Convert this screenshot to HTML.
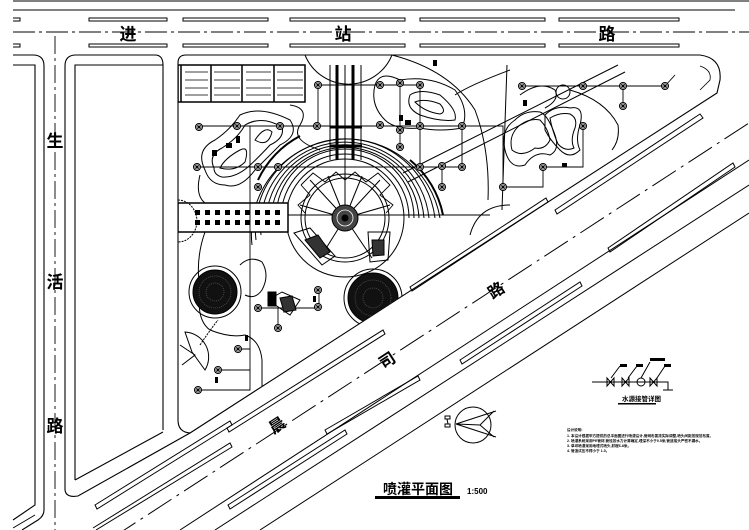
<!DOCTYPE html>
<html><head><meta charset="utf-8"><style>
html,body{margin:0;padding:0;background:#fff}
svg{display:block}
text{font-family:"Liberation Sans","Noto Sans CJK SC",sans-serif;font-weight:bold}
</style></head><body>
<svg width="749" height="530" viewBox="0 0 749 530" xmlns="http://www.w3.org/2000/svg">
<defs>
<g id="sp"><circle r="3.5" fill="#fff" stroke="#000" stroke-width="1"/><path d="M-3.5 0H3.5M0 -3.5V3.5M-2.4 -2.4L2.4 2.4M-2.4 2.4L2.4 -2.4" stroke="#000" stroke-width="0.7"/></g>
<clipPath id="park"><path d="M178,63 Q178,55 186,55 H700 Q722,58 720,80 L717,93 L190,433 Q178,432 178,420 Z"/></clipPath>
</defs>
<rect width="749" height="530" fill="#fff"/>
<g fill="none" stroke="#000" stroke-width="1.1">
<!-- top road -->
<line x1="13" y1="1" x2="749" y2="1"/>
<line x1="13" y1="10" x2="735" y2="10"/>
<line x1="13" y1="32" x2="749" y2="32" stroke-dasharray="22 4 3 4" stroke-width="0.9"/>
<g stroke-width="1">
<rect x="89" y="18" width="78" height="3"/><rect x="183" y="18" width="85" height="3"/><rect x="290" y="18" width="115" height="3"/><rect x="420" y="18" width="125" height="3"/><rect x="559" y="18" width="120" height="3"/>
<rect x="89" y="44" width="78" height="3"/><rect x="183" y="44" width="85" height="3"/><rect x="290" y="44" width="115" height="3"/><rect x="420" y="44" width="125" height="3"/><rect x="559" y="44" width="120" height="3"/>
<path d="M13 18H20V21H13M13 44H20V47H13"/>
</g>
<!-- left road -->
<path d="M13,55 H33 Q44,55 44,66 V510 Q44,516 38,520 L22,530"/>
<path d="M13,65 H35 V505 L13,520"/>
<line x1="55" y1="36" x2="55" y2="530" stroke-dasharray="18 4 3 4" stroke-width="0.9"/>
<!-- left block -->
<path d="M65,490 V66 Q65,55 76,55 H155 Q163,55 163,65 V430"/>
<path d="M75,480 V65 H163"/>
<path d="M75,480 L163,432"/>
<path d="M65,490 Q66,498 78,496 L190,433"/>
<!-- park boundary -->
<path d="M178,63 Q178,55 186,55 H700 Q722,58 720,80 L717,93 L190,433 Q178,432 178,420 Z"/>
<path d="M700,66 Q712,70 710,80 L700,90" stroke-width="0.8"/>
<!-- diagonal road lines -->
<g stroke-width="1">
<path d="M95,505 L230,421 L232,425 L97,509 Z"/>
<path d="M228,505 L345,430 L347,434 L230,509 Z"/>
<path d="M227,428 L383,330 L385,334 L229,432 Z"/>
<path d="M555,210 L700,114 L703,118 L557,214 Z"/>
<path d="M410,287 L546,198 L548,202 L412,291 Z"/>
<path d="M608,248 L733,163 L735,167 L610,252 Z"/>
<path d="M93,528 L230,443 L232,447 L96,530"/>
<path d="M325,430 L418,376 L420,380 L327,434 Z"/>
<path d="M460,360 L580,282 L582,286 L462,364 Z"/>
<line x1="112" y1="538" x2="749" y2="123" stroke-dasharray="28 6 3 6"/>
<line x1="180" y1="530" x2="749" y2="160"/>
<line x1="215" y1="530" x2="749" y2="185"/>
<line x1="260" y1="530" x2="749" y2="213"/>
<line x1="13" y1="528" x2="35" y2="515"/>
</g>
</g>
<!-- park interior -->
<g clip-path="url(#park)" fill="none" stroke="#000" stroke-width="1">
<rect x="178" y="65" width="127" height="37" stroke-width="1.5"/>
<g stroke-width="0.8">
<path d="M185 72H208M214 72H240M246 72H271M277 72H303M185 80H208M214 80H240M246 80H271M277 80H303M185 88H208M214 88H240M246 88H271M277 88H303M185 95H208M214 95H240M246 95H271M277 95H303"/>
</g>
<path d="M211 65V102M242 65V102M274 65V102M181 65V102" stroke-width="1.5"/>
<path d="M305,55 A47 47 0 0 0 392,55"/>
<path d="M337 65V160M353 65V160" stroke-width="3"/>
<path d="M345 65V160M361 65V160M330 65V160"/>
<path d="M330 127H362M330 146H362" stroke-width="3"/>
<g stroke-width="1">
<path d="M281,218 A64 64 0 0 1 409,218"/>
<path d="M276,218 A69 69 0 0 1 414,218"/>
<path d="M271,225 A74 74 0 0 1 419,218"/>
<path d="M266,230 A79 79 0 0 1 424,218"/>
<path d="M261,235 A84 84 0 0 1 429,218"/>
<path d="M256,240 A90 90 0 0 1 435,218"/>
<path d="M252,245 A95 95 0 0 1 440,218"/>
<path d="M258,180 A95 95 0 0 1 300,136" stroke-width="2"/>
<path d="M410,160 A95 95 0 0 1 443,215" stroke-width="2"/>
</g>
<circle cx="345" cy="218" r="59" fill="#fff"/>
<circle cx="345" cy="218" r="44"/>
<circle cx="345" cy="218" r="40"/>
<path d="M288 215H490M345 159V218"/>
<path d="M345,218 L310,180 M345,218 L380,180 M345,218 L300,205 M345,218 L390,205 M345,218 L320,258 M345,218 L372,258 M345,218 L328,176 M345,218 L362,176"/>
<path d="M301,185 L313,173 L325,182 L336,172 L345,180 L355,172 L366,182 L378,173 L390,185 L380,195 L393,205 L386,213" stroke-width="0.9"/>
<path d="M301,185 L310,195 L298,205 L305,213" stroke-width="0.9"/>
<circle cx="345" cy="218" r="13" fill="#444"/>
<circle cx="345" cy="218" r="8" stroke="#fff" stroke-width="0.8"/>
<circle cx="345" cy="218" r="3" fill="#000"/>
<path d="M294,233 L310,228 L335,256 L322,265 Z"/>
<path d="M305,240 L318,235 L330,252 L320,258 Z" fill="#333"/>
<path d="M368,232 L390,232 L388,260 L370,262 Z"/>
<path d="M372,240 L384,240 L384,255 L373,256 Z" fill="#333"/>
<rect x="178" y="203" width="110" height="29" fill="#fff" stroke-width="1.5"/>
<g fill="#000" stroke="none">
<rect x="195" y="210" width="5" height="5"/><rect x="205" y="210" width="5" height="5"/><rect x="215" y="210" width="5" height="5"/><rect x="225" y="210" width="5" height="5"/><rect x="235" y="210" width="5" height="5"/><rect x="245" y="210" width="5" height="5"/><rect x="255" y="210" width="5" height="5"/><rect x="265" y="210" width="5" height="5"/><rect x="275" y="210" width="5" height="5"/>
<rect x="195" y="220" width="5" height="5"/><rect x="205" y="220" width="5" height="5"/><rect x="215" y="220" width="5" height="5"/><rect x="225" y="220" width="5" height="5"/><rect x="235" y="220" width="5" height="5"/><rect x="245" y="220" width="5" height="5"/><rect x="255" y="220" width="5" height="5"/><rect x="265" y="220" width="5" height="5"/><rect x="275" y="220" width="5" height="5"/>
</g>
<path d="M178,200 A18 20 0 0 1 178,242" stroke-dasharray="2 1"/>
<path d="M205,170 Q195,150 215,140 Q230,130 240,115 Q260,105 290,120 Q300,135 280,145 Q265,160 255,170 Q240,190 225,185 Q210,185 205,170 Z"/>
<path d="M214,168 Q208,155 222,148 Q238,138 245,125 Q262,115 282,127 Q285,138 270,145 Q258,158 248,167 Q235,178 222,177 Q214,175 214,168Z"/>
<path d="M220,168 Q225,158 240,150 Q250,145 245,162 Q235,172 220,168Z"/>
<path d="M255,140 Q265,125 272,132 Q268,148 255,140Z"/>
<path d="M200,175 Q195,195 205,203 M205,232 Q195,260 200,290 Q196,320 210,330 Q230,338 245,335 Q260,340 262,360 L262,390"/>
<path d="M290,105 Q310,108 300,125 Q290,140 320,150"/>
<path d="M375,85 Q380,70 400,80 Q430,75 455,90 Q470,110 462,128 Q440,132 420,128 Q395,130 385,120 Q370,105 375,85Z"/>
<path d="M410,95 Q420,88 440,95 Q458,110 455,120 Q440,122 420,115 Q405,108 410,95Z"/>
<path d="M415,102 Q425,98 440,104 Q447,112 440,114 Q425,112 415,102Z"/>
<path d="M392,55 Q450,70 475,110 Q490,150 488,200"/>
<path d="M470,235 Q478,205 510,205"/>
<path d="M455,95 Q470,85 510,70"/>
<path d="M403,173 L618,65 M408,182 L625,72"/>
<path d="M507,65 L502,210"/>
<path d="M515,120 Q525,110 540,112 Q548,115 555,135 Q560,150 550,155 Q535,150 525,165 Q510,170 505,150 Q500,130 515,120Z"/>
<path d="M520,125 Q530,118 540,120 Q548,128 550,140 Q545,150 535,148 Q522,158 512,150 Q508,135 520,125Z"/>
<path d="M545,115 Q555,105 570,108 Q585,105 580,125 Q575,140 580,150 Q570,160 560,150 Q550,140 545,130Z"/>
<path d="M550,118 Q560,112 570,114 Q578,118 575,128 Q570,140 574,148 Q565,152 558,144 Q552,130 550,118Z"/>
<path d="M520,95 Q540,80 555,90 Q560,100 545,108"/>
<circle cx="563" cy="92" r="7"/>
<path d="M570,90 Q605,100 618,125 Q620,140 612,150"/>
<g stroke-width="0.9">
<path d="M522 86H665M623 86V106M583 126V167H543M503 187H543V167M503 187V126H470"/>
<path d="M318 85H420M318 85V127M400 83V150M199 126H470M197 167H462M250 126V390H198M420 85V167M442 187V167M462 126V167"/>
<path d="M258 308H319V290M278 308V329M238 349H250M218 370H250M665 86L675 75"/>
</g>
<circle cx="215" cy="292" r="22" fill="#111"/>
<circle cx="215" cy="292" r="16" stroke="#666" stroke-width="0.6" stroke-dasharray="1 1"/>
<circle cx="215" cy="292" r="9" stroke="#666" stroke-width="0.6" stroke-dasharray="1 1"/>
<circle cx="215" cy="292" r="26"/>
<circle cx="373" cy="298" r="25" fill="#111"/>
<circle cx="373" cy="298" r="18" stroke="#666" stroke-width="0.6" stroke-dasharray="1 1"/>
<circle cx="373" cy="298" r="10" stroke="#666" stroke-width="0.6" stroke-dasharray="1 1"/>
<circle cx="373" cy="298" r="29"/>
<path d="M240,265 Q250,255 262,262 Q270,275 262,290 Q255,300 245,295"/>
<path d="M268,300 L282,292 L300,300 L290,315 Z"/>
<rect x="268" y="292" width="8" height="14" fill="#000"/>
<path d="M280,298 L292,296 L296,310 L284,312Z" fill="#333"/>
<path d="M185,332 A25 25 0 0 1 205,370 L192,352 Z"/>
<path d="M180,345 L195,355 L182,365"/>
<path d="M200,345 Q210,330 218,320" stroke-dasharray="2 1"/>
</g>
<g>
<use href="#sp" x="318" y="85"/><use href="#sp" x="380" y="85"/><use href="#sp" x="400" y="83"/><use href="#sp" x="420" y="85"/><use href="#sp" x="462" y="126"/><use href="#sp" x="380" y="125"/><use href="#sp" x="400" y="130"/><use href="#sp" x="420" y="126"/><use href="#sp" x="400" y="147"/><use href="#sp" x="462" y="167"/><use href="#sp" x="442" y="187"/><use href="#sp" x="420" y="167"/><use href="#sp" x="237" y="126"/><use href="#sp" x="280" y="126"/><use href="#sp" x="197" y="167"/><use href="#sp" x="258" y="167"/><use href="#sp" x="278" y="167"/><use href="#sp" x="258" y="187"/><use href="#sp" x="317" y="126"/><use href="#sp" x="318" y="290"/><use href="#sp" x="318" y="307"/><use href="#sp" x="258" y="308"/><use href="#sp" x="278" y="328"/><use href="#sp" x="199" y="127"/><use href="#sp" x="522" y="86"/><use href="#sp" x="583" y="86"/><use href="#sp" x="623" y="86"/><use href="#sp" x="665" y="86"/><use href="#sp" x="623" y="106"/><use href="#sp" x="583" y="126"/><use href="#sp" x="543" y="167"/><use href="#sp" x="503" y="187"/><use href="#sp" x="442" y="166"/><use href="#sp" x="198" y="390"/><use href="#sp" x="218" y="370"/><use href="#sp" x="238" y="349"/>
</g>
<g fill="#000">
<rect x="212" y="150" width="5" height="6"/><rect x="226" y="143" width="6" height="5"/><rect x="236" y="136" width="4" height="7"/><rect x="399" y="115" width="4" height="6"/><rect x="405" y="120" width="6" height="5"/><rect x="433" y="60" width="4" height="6"/><rect x="523" y="100" width="4" height="6"/><rect x="562" y="163" width="5" height="4"/><rect x="313" y="296" width="3" height="6"/><rect x="245" y="335" width="3" height="6"/><rect x="215" y="377" width="3" height="6"/>
</g>
<g font-size="17" text-anchor="middle">
<text x="128" y="40">进</text><text x="343" y="40">站</text><text x="607" y="40">路</text>
<text x="55" y="147">生</text><text x="55" y="288">活</text><text x="55" y="432">路</text>
<text x="277" y="431" transform="rotate(-33 277 425)" font-size="16">晨</text>
<text x="387" y="366" transform="rotate(-33 387 360)" font-size="16">司</text>
<text x="496" y="296" transform="rotate(-33 496 290)" font-size="16">路</text>
</g>
<g fill="none" stroke="#000" stroke-width="1">
<circle cx="473" cy="425" r="18"/>
<path d="M456,424 L496,411 M456,424 L496,437 M456,424 L480,425 L494,411 M480,425 L494,437"/>
<rect x="445" y="416" width="5" height="3"/><rect x="445" y="424" width="5" height="3"/><path d="M447,419 L448,424"/>
</g>
<g fill="none" stroke="#000" stroke-width="1">
<path d="M592 382H668V390M663 390H673"/>
<path d="M607,378 L607,386 L614,378 L614,386 Z M622,378 L622,386 L629,378 L629,386 Z M650,378 L650,386 L657,378 L657,386 Z"/>
<circle cx="641" cy="382" r="4"/>
<path d="M611,378 L620,366 M628,378 L637,366 M641,378 L650,362 M657,378 L665,366"/>
</g>
<g fill="#000"><rect x="620" y="364" width="7" height="3"/><rect x="636" y="364" width="7" height="3"/><rect x="650" y="358" width="15" height="3"/><rect x="664" y="364" width="7" height="3"/></g>
<text x="622" y="401" font-size="6.5">水源接管详图</text>
<rect x="618" y="403" width="38" height="1.5" fill="#000"/>
<g font-size="3.6" font-weight="normal">
<text x="567" y="431">设计说明:</text>
<text x="567" y="437">1. 本设计根据甲方提供的总平面图进行喷灌设计,管网布置按实际调整,喷头间距按规范布置。</text>
<text x="567" y="442">2. 喷灌系统采用PE管材,管径按水力计算确定,埋深不小于0.5米,管道接头严密不漏水。</text>
<text x="567" y="447">3. 草坪喷灌采用地埋式喷头,射程6-8米。</text>
<text x="567" y="452">4. 管道试压不得小于 1.0。</text>
</g>
<text x="383" y="494" font-size="14">喷灌平面图</text>
<rect x="375" y="496" width="85" height="3" fill="#000"/>
<text x="467" y="494" font-size="8" font-weight="normal">1:500</text>
</svg>
</body></html>
